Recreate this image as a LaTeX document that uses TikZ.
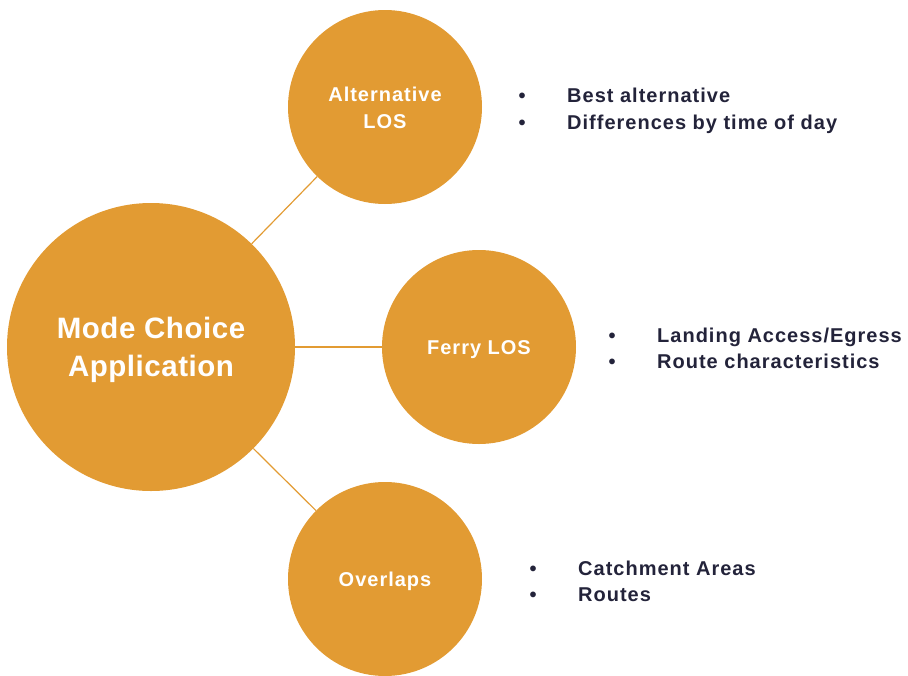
\documentclass[tikz,border=0pt]{standalone}
\usepackage{fontspec}
\setmainfont{Liberation Sans}
\newfontfamily\trackfont[LetterSpace=5]{Liberation Sans}
\newfontfamily\titlefont[LetterSpace=1.8]{Liberation Sans}
\definecolor{ochre}{HTML}{E29B33}
\definecolor{navy}{HTML}{23233A}
\tikzset{
  bubble/.style={circle, fill=ochre, draw=none, inner sep=0pt},
  ctext/.style={inner sep=0pt, text=white, align=center, font=\trackfont\bfseries\fontsize{20}{27}\selectfont},
  link/.style={draw=ochre, line width=1.2pt},
  bul/.style={anchor=base, inner sep=0pt, text=navy, font=\bfseries\fontsize{20}{27}\selectfont},
  item/.style={anchor=base west, inner sep=0pt, text=navy, font=\trackfont\bfseries\fontsize{20}{27}\selectfont}
}
\begin{document}
\begin{tikzpicture}[x=1pt,y=-1pt]
\useasboundingbox (0,0) rectangle (908,675);
\clip (0,0) rectangle (908,675);
\node[bubble, minimum size=288pt] (main) at (151,347) {};
\node[bubble, minimum size=194pt] (alt) at (385,107) {};
\node[bubble, minimum size=194pt] (ferry) at (479,347) {};
\node[bubble, minimum size=194pt] (over) at (385,579) {};
\node[ctext, font=\titlefont\bfseries\fontsize{29.5}{38}\selectfont] (mainlbl) at ([yshift=-3pt]main.center) {Mode Choice\\Application};
\node[ctext] (altlbl) at ([yshift=-1pt]alt.center) {Alternative\\LOS};
\node[ctext] (ferrylbl) at ([yshift=-3pt]ferry.center) {Ferry LOS};
\node[ctext] (overlbl) at ([yshift=-2pt]over.center) {Overlaps};
\draw[link] (main) -- (alt);
\draw[link] (main) -- (ferry);
\draw[link] (main) -- (over);
% lists
\node[bul] (b1) at (522,102) {\textbullet};
\node[item] (t1) at (567,102) {Best alternative};
\node[bul] (b2) at (522,129) {\textbullet};
\node[item] (t2) at (567,129) {Differences by time of day};
\node[bul] (b3) at (612,342) {\textbullet};
\node[item] (t3) at (657,342) {Landing Access/Egress};
\node[bul] (b4) at (612,368) {\textbullet};
\node[item] (t4) at (657,368) {Route characteristics};
\node[bul] (b5) at (533,575) {\textbullet};
\node[item] (t5) at (578,575) {Catchment Areas};
\node[bul] (b6) at (533,601) {\textbullet};
\node[item] (t6) at (578,601) {Routes};
\end{tikzpicture}
\end{document}
